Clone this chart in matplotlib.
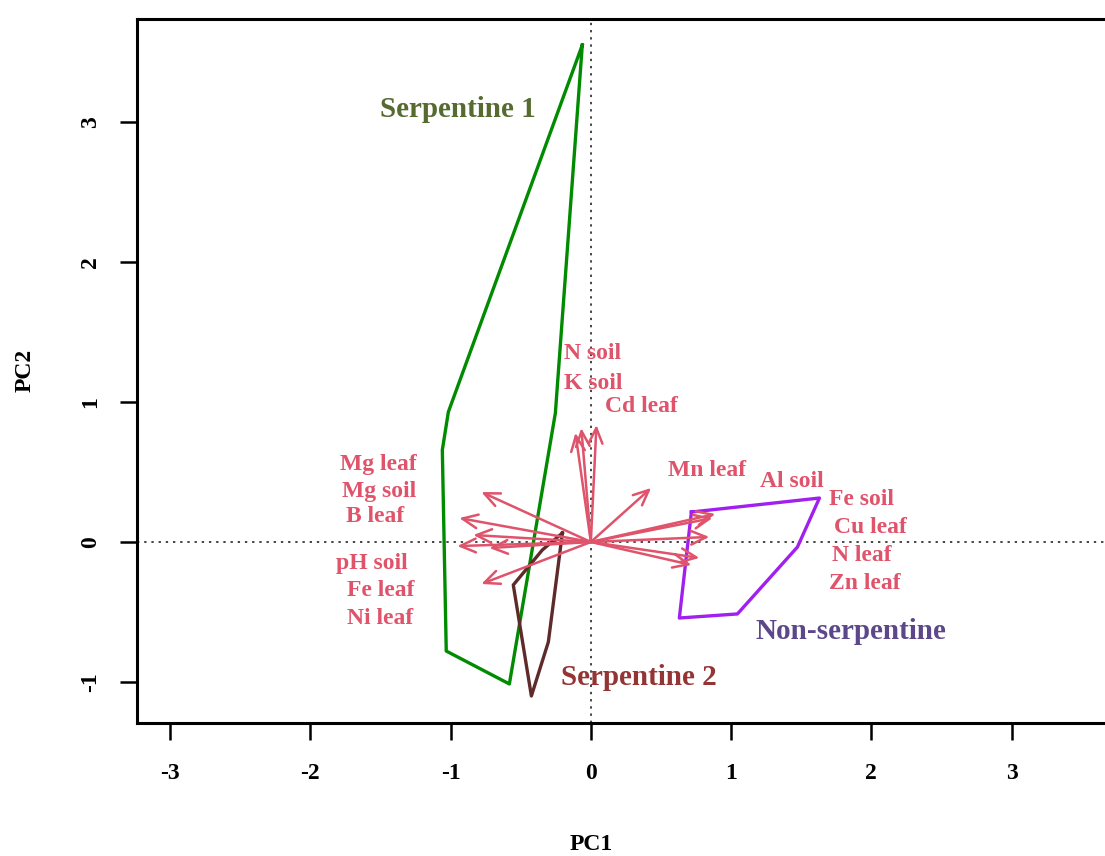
import matplotlib
matplotlib.use("Agg")
import matplotlib.pyplot as plt

plt.rcParams['font.family'] = ['Liberation Serif', 'DejaVu Serif']
plt.rcParams['font.weight'] = 'bold'

# Loadings (arrow tips)
var_names = ["N soil", "K soil", "Cd leaf", "Mn leaf", "Al soil", "Fe soil", "Cu leaf",
             "N leaf", "Zn leaf", "Mg leaf", "Mg soil", "B leaf", "pH soil", "Fe leaf", "Ni leaf"]
var_x = [-0.11, -0.068, 0.04, 0.43, 0.888, 0.867, 0.845, 0.774, 0.717,
         -0.781, -0.938, -0.838, -0.952, -0.724, -0.781]
var_y = [0.78, 0.814, 0.836, 0.386, 0.2, 0.171, 0.036, -0.114, -0.164,
         0.357, 0.171, 0.05, -0.029, -0.043, -0.3]
# label placement
lab_x = [0.01, 0.02, 0.36, 0.83, 1.43, 1.93, 1.99, 1.93, 1.95,
         -1.516, -1.51, -1.54, -1.56, -1.50, -1.50]
lab_y = [1.35, 1.135, 0.97, 0.51, 0.43, 0.30, 0.10, -0.10, -0.30,
         0.557, 0.364, 0.179, -0.157, -0.35, -0.55]

# Hulls
s1_x = [-0.061, -1.016, -1.059, -1.031, -0.581, -0.253]
s1_y = [3.55, 0.929, 0.657, -0.779, -1.014, 0.921]
s2_x = [-0.203, -0.346, -0.553, -0.424, -0.303]
s2_y = [0.064, -0.057, -0.307, -1.10, -0.714]
ns_x = [0.717, 1.63, 1.473, 1.045, 0.631]
ns_y = [0.214, 0.314, -0.036, -0.514, -0.543]

groups = ["Serpentine 1", "Serpentine 2", "Non-serpentine"]
group_lab_x = [-0.945, 0.346, 1.858]
group_lab_y = [3.093, -0.971, -0.636]

xticks = [-3, -2, -1, 0, 1, 2, 3]
yticks = [-1, 0, 1, 2, 3]

fig = plt.figure(figsize=(11.05, 8.56), dpi=100)
ax = fig.add_axes([137/1105, 1 - 723/856, 1 - 137/1105, (723 - 19)/856])
ax.set_xlim(-3.236, 3.666)
ax.set_ylim(-1.293, 3.736)

ax.axhline(0, color='#444444', ls=(0, (1.2, 2.5)), lw=1.4, zorder=1)
ax.axvline(0, color='#444444', ls=(0, (1.2, 2.5)), lw=1.4, zorder=1)

hull_cols = ['#008B00', '#5E2A2A', '#A020F0']
for hx, hy, c in zip([s1_x, s2_x, ns_x], [s1_y, s2_y, ns_y], hull_cols):
    ax.plot(hx + hx[:1], hy + hy[:1], color=c, lw=2.4, zorder=3)

acol = '#DF536B'
for x, y in zip(var_x, var_y):
    ax.annotate('', xy=(x, y), xytext=(0, 0),
                arrowprops=dict(arrowstyle='->,head_length=0.85,head_width=0.38',
                                mutation_scale=13, color=acol, lw=1.8,
                                shrinkA=0, shrinkB=0), zorder=4)
for n, x, y in zip(var_names, lab_x, lab_y):
    ax.text(x, y, n, color=acol, fontsize=17, fontweight='bold', ha='center', va='center', zorder=5)

gcols = ['#556B2F', '#943434', '#5D478B']
for g, x, y, c in zip(groups, group_lab_x, group_lab_y, gcols):
    ax.text(x, y, g, color=c, fontsize=21, fontweight='bold', ha='center', va='center', zorder=5)

ax.set_xticks(xticks)
ax.set_yticks(yticks)
ax.set_xticklabels([str(t) for t in xticks], fontsize=17, fontweight='bold')
ax.set_yticklabels([str(t) for t in yticks], fontsize=17, fontweight='bold', rotation=90, va='center')
ax.tick_params(axis='x', length=12, width=1.8, pad=17)
ax.tick_params(axis='y', length=12, width=1.8, pad=14)
for s in ['left', 'bottom', 'top']:
    ax.spines[s].set_linewidth(2.2)
ax.spines['right'].set_visible(False)

fig.text(591/1105, 1 - 845/856, 'PC1', fontsize=17, fontweight='bold', ha='center', va='center')
fig.text(25/1105, 1 - 370/856, 'PC2', fontsize=17, fontweight='bold', ha='center', va='center', rotation=90)

fig.savefig('out.png', dpi=100)
